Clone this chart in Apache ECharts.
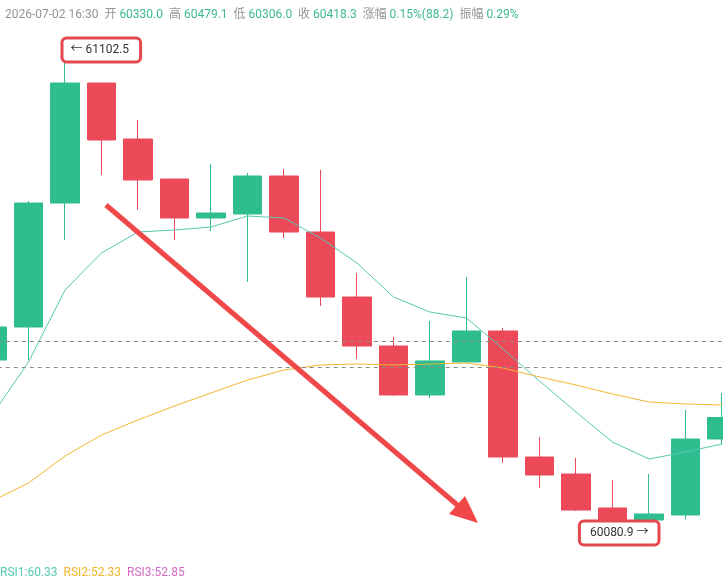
<!DOCTYPE html>
<html>
<head>
<meta charset="utf-8">
<script src="https://cdn.jsdelivr.net/npm/echarts@6/dist/echarts.min.js"></script>
<style>
  html, body { margin: 0; padding: 0; background: #fff; }
  #main { width: 723px; height: 582px; }
</style>
</head>
<body>
<div id="main"></div>
<script>
// K线数据
let times = ['06:00', '06:30', '07:00', '07:30', '08:00', '08:30', '09:00', '09:30', '10:00', '10:30',
  '11:00', '11:30', '12:00', '12:30', '13:00', '13:30', '14:00', '14:30', '15:00', '15:30', '16:00']

let open = [60451.4, 60521.0, 60782.7, 61036.0, 60917.8, 60833.4, 60751.1, 60759.5, 60839.7, 60721.5,
  60584.3, 60480.9, 60377.5, 60447.2, 60512.6, 60246.6, 60210.7, 60139.0, 60113.6, 60124.2, 60284.6]
let close = [60521.0, 60782.7, 61036.0, 60915.7, 60831.3, 60751.1, 60761.6, 60839.7, 60721.5, 60584.3,
  60480.9, 60377.5, 60449.3, 60512.6, 60246.6, 60208.6, 60134.7, 60113.6, 60126.3, 60284.6, 60330.0]
let low = [60430.0, 60451.4, 60704.6, 60841.8, 60768.0, 60704.6, 60723.6, 60616.0, 60708.9, 60565.3,
  60453.5, 60375.4, 60371.1, 60447.2, 60234.0, 60181.2, 60132.6, 60096.7, 60080.9, 60115.8, 60272.0]
let high = [60535.0, 60787.0, 61102.5, 61036.0, 60957.9, 60833.4, 60865.0, 60846.1, 60854.5, 60852.4,
  60635.0, 60500.0, 60533.7, 60626.6, 60518.9, 60288.8, 60244.5, 60198.1, 60210.7, 60345.8, 60381.7]

let ma_short = [60335.3, 60447.1, 60599.1, 60677.2, 60721.5, 60725.7, 60732.1, 60755.3, 60751.1, 60708.9,
  60656.1, 60584.3, 60552.7, 60540.0, 60474.6, 60407.0, 60341.6, 60278.3, 60242.4, 60257.2, 60274.1]
let ma_long = [60153.7, 60191.7, 60248.7, 60293.0, 60324.7, 60354.3, 60381.7, 60409.1, 60430.2, 60440.8,
  60442.9, 60440.8, 60442.9, 60445.0, 60434.5, 60415.5, 60398.6, 60379.6, 60362.7, 60358.5, 60356.4]

let price_lines = [60491.5, 60436.6]

let header = {
  time: '2026-07-02 16:30', open: '60330.0', high: '60479.1', low: '60306.0', close: '60418.3',
  change: '0.15%(88.2)', amplitude: '0.29%'
}
let rsi = ['RSI1:60.33', 'RSI2:52.33', 'RSI3:52.85']

let up_color = '#2ebd8f'
let down_color = '#ec4a58'
let font = 'Roboto, "Noto Sans CJK SC", sans-serif'

let kdata = []
for (let i = 0; i < times.length; i++) {
  kdata.push([open[i], close[i], low[i], high[i]])
}

let chart = echarts.init(document.getElementById('main'))

option = {
  animation: false,
  backgroundColor: '#fff',
  textStyle: { fontFamily: font },
  title: {
    left: 0,
    top: 4,
    text: '{g|' + header.time + '}  {g|开} {v|' + header.open + '}  {g|高} {v|' + header.high +
      '}  {g|低} {v|' + header.low + '}  {g|收} {v|' + header.close + '}  {g|涨幅} {v|' + header.change +
      '}  {g|振幅} {v|' + header.amplitude + '}',
    textStyle: {
      fontSize: 12,
      fontWeight: 'normal',
      fontFamily: font,
      rich: {
        g: { color: '#959595', fontSize: 12, fontFamily: font },
        v: { color: '#3dba8e', fontSize: 12, fontFamily: font }
      }
    }
  },
  // 两端的K线只露出一部分
  grid: {
    left: -26.25,
    width: 766.5,
    top: 0,
    bottom: 0,
    outerBoundsMode: 'none'
  },
  xAxis: {
    type: 'category',
    data: times,
    boundaryGap: true,
    show: false
  },
  yAxis: {
    type: 'value',
    min: 59982.8,
    max: 61211.2,
    show: false,
    splitLine: { show: false }
  },
  series: [
    {
      name: 'K',
      type: 'candlestick',
      data: kdata,
      barWidth: 29,
      itemStyle: {
        color: up_color,
        color0: down_color,
        borderColor: up_color,
        borderColor0: down_color,
        borderWidth: 1
      },
      markPoint: {
        symbol: 'circle',
        symbolSize: 1,
        itemStyle: { color: 'rgba(0,0,0,0)' },
        data: [
          {
            type: 'max',
            valueDim: 'highest',
            label: {
              show: true,
              formatter: function (p) { return '← ' + p.value.toFixed(1) },
              position: [-1, -1],
              align: 'left',
              verticalAlign: 'middle',
              color: '#333',
              fontSize: 12,
              fontFamily: font,
              backgroundColor: '#fff',
              borderColor: '#e5484d',
              borderWidth: 3,
              borderRadius: 3,
              padding: [5, 10, 4, 7]
            }
          },
          {
            type: 'min',
            valueDim: 'lowest',
            label: {
              show: true,
              formatter: function (p) { return p.value.toFixed(1) + ' →' },
              position: [9, -2],
              align: 'right',
              verticalAlign: 'middle',
              color: '#333',
              fontSize: 12,
              fontFamily: font,
              backgroundColor: '#fff',
              borderColor: '#e5484d',
              borderWidth: 3,
              borderRadius: 3,
              padding: [5, 9, 4, 9]
            }
          }
        ]
      }
    },
    {
      name: 'MA1',
      type: 'line',
      data: ma_short,
      symbol: 'none',
      lineStyle: { color: '#55c9b2', width: 1 }
    },
    {
      name: 'MA2',
      type: 'line',
      data: ma_long,
      symbol: 'none',
      lineStyle: { color: '#f3b630', width: 1 },
      markLine: {
        symbol: 'none',
        silent: true,
        label: { show: false },
        lineStyle: { color: '#8a8a8a', type: [4, 4], width: 1 },
        data: price_lines.map(function (v) { return { yAxis: v } })
      }
    }
  ],
  graphic: [
    // 红色箭头标注
    {
      type: 'line',
      shape: { x1: 106, y1: 205, x2: 462, y2: 509 },
      style: { stroke: '#f04848', lineWidth: 5 },
      z: 100
    },
    {
      type: 'polygon',
      shape: { points: [[478, 523], [449, 514], [465, 496]] },
      style: { fill: '#f04848' },
      z: 100
    },
    {
      type: 'text',
      left: 0,
      top: 567,
      style: {
        text: '{a|' + rsi[0] + '}  {b|' + rsi[1] + '}  {c|' + rsi[2] + '}',
        font: '12px ' + font,
        rich: {
          a: { fill: '#55c9b2', font: '12px ' + font },
          b: { fill: '#f0b429', font: '12px ' + font },
          c: { fill: '#d56bc4', font: '12px ' + font }
        }
      }
    }
  ]
}

chart.setOption(option)
</script>
</body>
</html>
